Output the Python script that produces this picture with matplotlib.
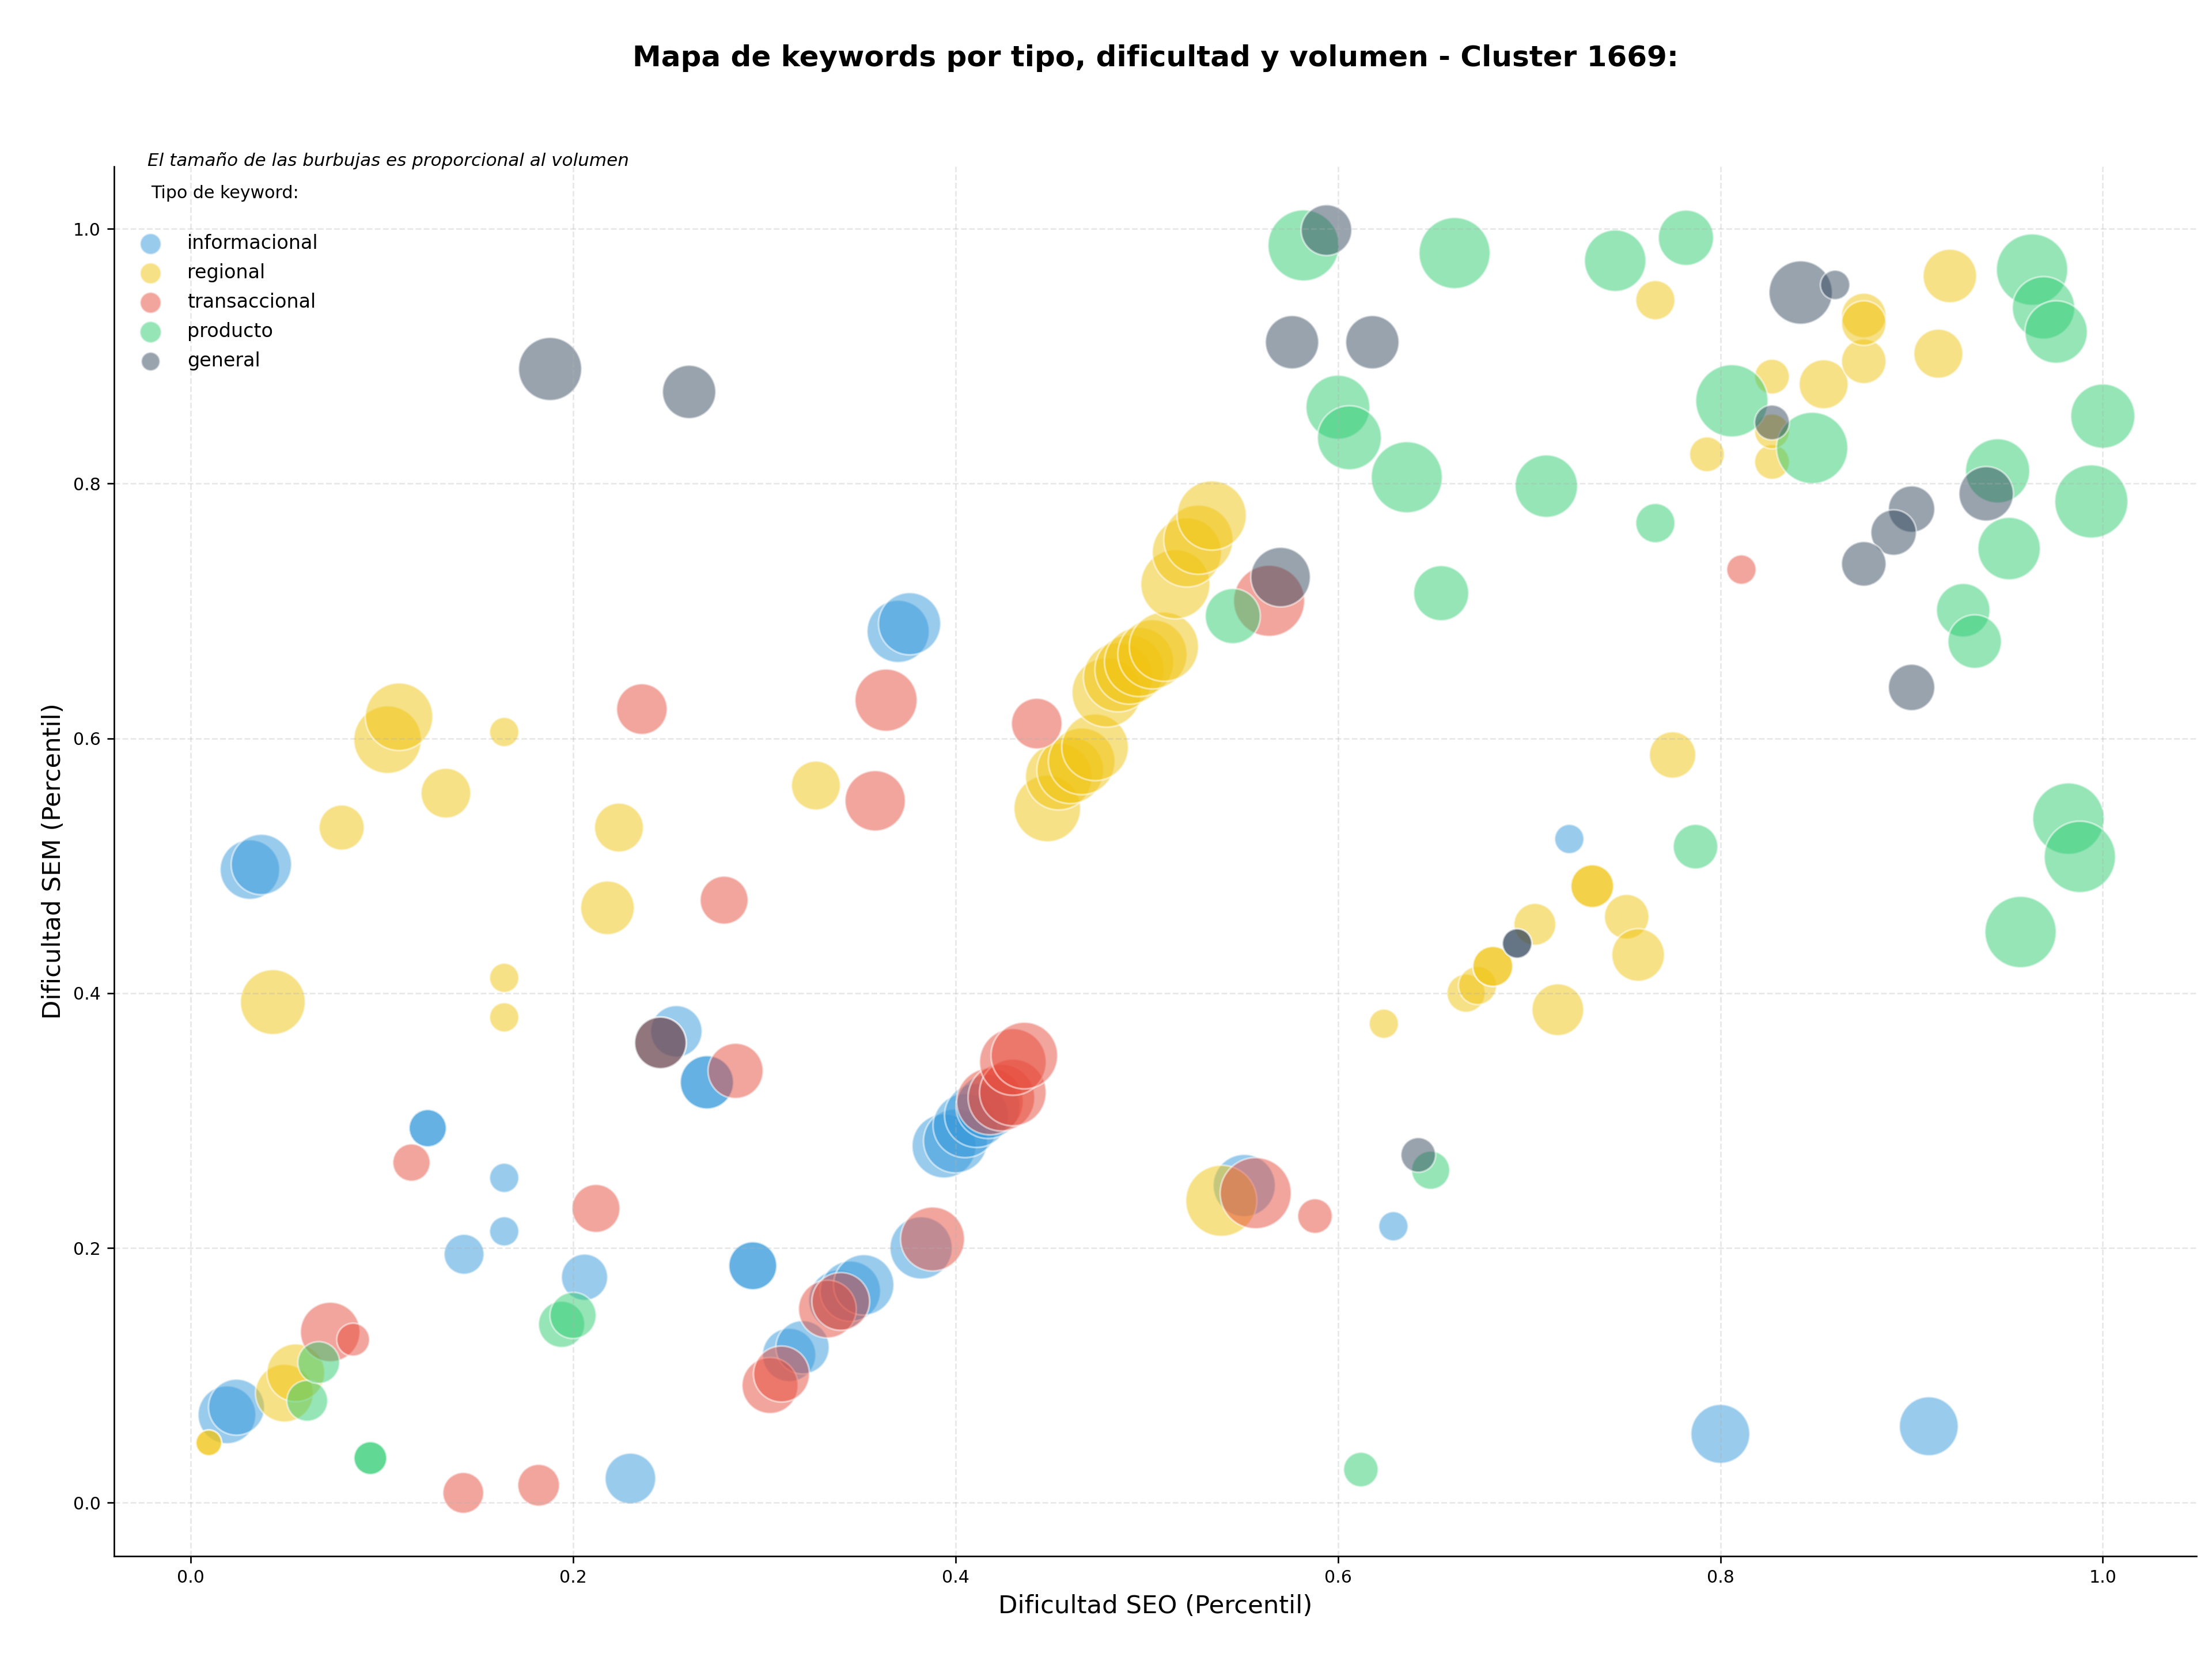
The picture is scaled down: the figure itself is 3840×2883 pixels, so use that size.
import numpy as np
import matplotlib.pyplot as plt

# datos por tipo de keyword: dificultad SEO (x), dificultad SEM (y), volumen (tamaño burbuja)
info_x = [0.019, 0.024, 0.031, 0.037, 0.124, 0.124, 0.164, 0.164, 0.143, 0.206,
          0.230, 0.254, 0.270, 0.270, 0.294, 0.294, 0.313, 0.320, 0.339, 0.345,
          0.352, 0.382, 0.370, 0.376, 0.394, 0.400, 0.405, 0.411, 0.417, 0.551,
          0.629, 0.721, 0.800, 0.909]
info_y = [0.069, 0.075, 0.497, 0.501, 0.294, 0.294, 0.255, 0.213, 0.195, 0.177,
          0.019, 0.370, 0.330, 0.330, 0.186, 0.186, 0.116, 0.122, 0.159, 0.166,
          0.171, 0.200, 0.684, 0.690, 0.280, 0.284, 0.296, 0.304, 0.311, 0.249,
          0.217, 0.521, 0.054, 0.060]
info_v = [906, 851, 962, 990, 378, 378, 233, 233, 434, 580,
          697, 721, 772, 772, 625, 625, 772, 772, 990, 990,
          990, 1050, 1050, 1050, 1111, 1111, 1111, 1111, 1111, 1050,
          233, 233, 941, 941]

reg_x = [0.0095, 0.0095, 0.049, 0.055, 0.043, 0.079, 0.103, 0.109, 0.1335, 0.164,
         0.164, 0.164, 0.224, 0.218, 0.327, 0.448, 0.454, 0.460, 0.466, 0.473,
         0.479, 0.485, 0.491, 0.496, 0.503, 0.509, 0.515, 0.521, 0.527, 0.534,
         0.539, 0.624, 0.667, 0.673, 0.681, 0.681, 0.703, 0.715, 0.733, 0.733,
         0.751, 0.757, 0.775, 0.766, 0.793, 0.827, 0.827, 0.827, 0.854, 0.875,
         0.875, 0.875, 0.914, 0.920]
reg_y = [0.047, 0.047, 0.086, 0.102, 0.393, 0.530, 0.599, 0.617, 0.557, 0.605,
         0.412, 0.381, 0.530, 0.467, 0.563, 0.545, 0.570, 0.575, 0.582, 0.593,
         0.636, 0.648, 0.654, 0.660, 0.666, 0.672, 0.721, 0.746, 0.756, 0.775,
         0.237, 0.376, 0.400, 0.406, 0.421, 0.421, 0.454, 0.387, 0.484, 0.484,
         0.460, 0.430, 0.587, 0.944, 0.823, 0.884, 0.817, 0.841, 0.878, 0.896,
         0.932, 0.926, 0.902, 0.963]
reg_v = [180, 180, 906, 906, 1143, 553, 1238, 1238, 672, 233,
         233, 233, 649, 780, 649, 1206, 1206, 1206, 1206, 1206,
         1300, 1300, 1300, 1300, 1300, 1300, 1300, 1300, 1300, 1300,
         1372, 233, 396, 396, 434, 434, 477, 727, 498, 498,
         540, 752, 584, 418, 329, 329, 329, 329, 653, 540,
         540, 540, 653, 778]

tra_x = [0.073, 0.085, 0.1155, 0.1426, 0.182, 0.212, 0.236, 0.2457, 0.279, 0.285,
         0.303, 0.309, 0.333, 0.340, 0.3637, 0.358, 0.4425, 0.388, 0.418, 0.424,
         0.430, 0.430, 0.436, 0.557, 0.588, 0.564, 0.811]
tra_y = [0.134, 0.128, 0.267, 0.0077, 0.0137, 0.231, 0.623, 0.361, 0.473, 0.339,
         0.092, 0.101, 0.152, 0.158, 0.630, 0.551, 0.6116, 0.207, 0.315, 0.318,
         0.322, 0.346, 0.351, 0.243, 0.225, 0.708, 0.7325]
tra_v = [962, 294, 378, 454, 474, 625, 697, 721, 624, 824,
         851, 851, 906, 906, 1050, 990, 697, 1111, 1206, 1206,
         1206, 1206, 1206, 1372, 326, 1372, 235]

pro_x = [0.061, 0.067, 0.094, 0.094, 0.194, 0.200, 0.612, 0.6485, 0.787, 0.766,
         0.654, 0.709, 0.545, 0.582, 0.661, 0.600, 0.606, 0.636, 0.745, 0.782,
         0.806, 0.848, 0.963, 0.969, 0.9756, 1.000, 0.945, 0.994, 0.951, 0.927,
         0.933, 0.982, 0.988, 0.957]
pro_y = [0.080, 0.110, 0.035, 0.035, 0.140, 0.147, 0.026, 0.261, 0.515, 0.769,
         0.714, 0.798, 0.696, 0.987, 0.981, 0.860, 0.836, 0.805, 0.975, 0.993,
         0.865, 0.828, 0.968, 0.938, 0.919, 0.853, 0.810, 0.786, 0.749, 0.7006,
         0.676, 0.537, 0.507, 0.448]
pro_v = [454, 474, 294, 294, 580, 580, 326, 396, 540, 418,
         824, 1058, 824, 1372, 1372, 1111, 1111, 1372, 1028, 830,
         1417, 1382, 1382, 1058, 1058, 1120, 1120, 1452, 1058, 778,
         778, 1382, 1382, 1382]

gen_x = [0.188, 0.2607, 0.2457, 0.594, 0.576, 0.618, 0.570, 0.842, 0.860, 0.827,
         0.900, 0.8906, 0.875, 0.939, 0.900, 0.6937, 0.6937, 0.642]
gen_y = [0.890, 0.872, 0.361, 0.999, 0.911, 0.911, 0.7266, 0.950, 0.956, 0.848,
         0.780, 0.7616, 0.737, 0.792, 0.640, 0.439, 0.439, 0.273]
gen_v = [1081, 772, 721, 697, 772, 772, 962, 1089, 235, 329,
         584, 562, 540, 804, 584, 235, 235, 326]

tipos = ['informacional', 'regional', 'transaccional', 'producto', 'general']
colores = ['#3498DB', '#F1C40F', '#E74C3C', '#2ECC71', '#34495E']
series = [(info_x, info_y, info_v), (reg_x, reg_y, reg_v), (tra_x, tra_y, tra_v),
          (pro_x, pro_y, pro_v), (gen_x, gen_y, gen_v)]
tam_leyenda = [120, 120, 120, 125, 95]

fig = plt.figure(figsize=(16, 12.0125), dpi=240)
ax = fig.add_axes([0.0516, 0.0631, 0.9414, 0.8367])

for (x, y, v), c in zip(series, colores):
    ax.scatter(x, y, s=np.array(v), color=c, alpha=0.5, edgecolors='white', linewidths=1)

# leyenda con marcadores de tamaño fijo
handles = []
for t, c, s in zip(tipos, colores, tam_leyenda):
    handles.append(ax.scatter([], [], s=s, color=c, alpha=0.5, edgecolors='white', linewidths=1, label=t))
ax.legend(handles=handles, loc='upper left', bbox_to_anchor=(0.0, 0.9638), frameon=False,
          fontsize=10, scatterpoints=1, handletextpad=0.9, labelspacing=0.54)

ax.text(0.0176, 0.9807, 'Tipo de keyword:', transform=ax.transAxes, fontsize=9, va='center', ha='left')
ax.text(0.016, 1.004, 'El tamaño de las burbujas es proporcional al volumen', transform=ax.transAxes,
        fontsize=9.3, style='italic', va='center', ha='left')

ax.set_xlim(-0.04, 1.049)
ax.set_ylim(-0.042, 1.049)
ax.set_xlabel('Dificultad SEO (Percentil)', fontsize=13)
ax.set_ylabel('Dificultad SEM (Percentil)', fontsize=13)
ax.tick_params(labelsize=9)
ax.grid(True, linestyle='--', alpha=0.3)
ax.spines['top'].set_visible(False)
ax.spines['right'].set_visible(False)

ax.text(0.5, 1.078, 'Mapa de keywords por tipo, dificultad y volumen - Cluster 1669:', transform=ax.transAxes,
        fontsize=15, fontweight='bold', ha='center', va='center')

plt.savefig('out.png', dpi=240)
